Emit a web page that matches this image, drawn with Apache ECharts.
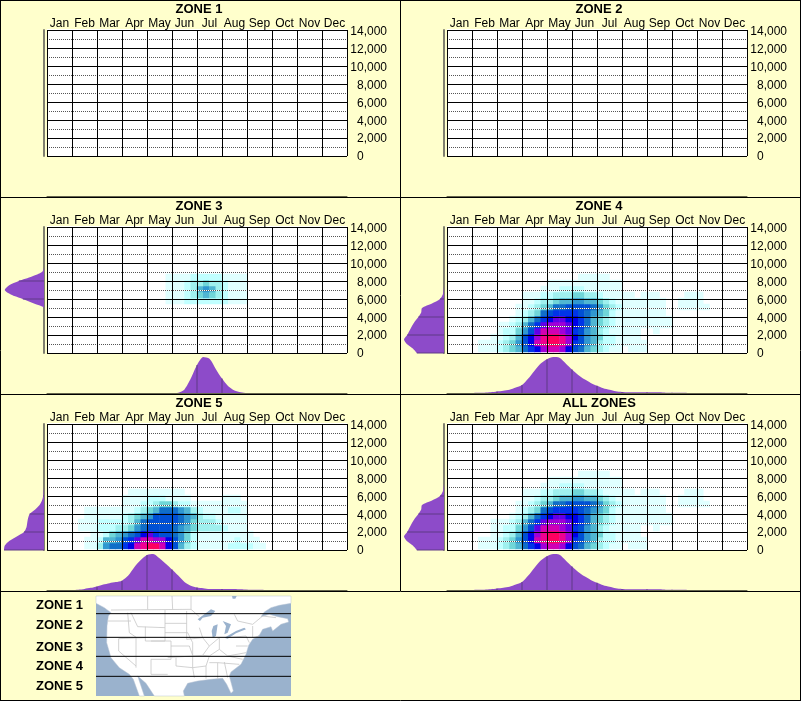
<!DOCTYPE html>
<html><head><meta charset="utf-8"><title>Zones</title>
<style>html,body{margin:0;padding:0;background:#ffffcc}#c{width:801px;height:701px}</style>
<script src="https://cdn.jsdelivr.net/npm/echarts@6/dist/echarts.min.js"></script>
</head><body><div id="c"></div>
<script>
const months = ['Jan','Feb','Mar','Apr','May','Jun','Jul','Aug','Sep','Oct','Nov','Dec'];
const binsPerMonth = 4, yBins = 21, yMax = 14000, yStep = 2000;
const zoneNames = ['ZONE 1','ZONE 2','ZONE 3','ZONE 4','ZONE 5','ALL ZONES'];
const keyLabels = ['ZONE 1','ZONE 2','ZONE 3','ZONE 4','ZONE 5'];
// colour ramp, level 1..15
const levelColors = ['#e0ffff','#c0ffff','#9ff0ee','#70d6d8','#50b6d2','#3098d0','#106ec8','#0050d4','#0034e8','#0000e8','#6000e8','#a000d8','#d000b4','#f00090','#ff0060'];
// heat cells: one row per y bin from the bottom: [first month-bin, levels (hex, '.' = empty)]
const zone1Cells = [];
const zone2Cells = [];
const zone3Cells = [null,null,null,null,null,null,null,null,
 [19,'111'+'2222222'+'111'],
 [19,'111'+'2345432'+'111'],
 [19,'111'+'2356532'+'111'],
 [19,'111'+'2334332'+'111'],
 [19,'1111'+'22222'+'1111']];
const zone4Cells = [
 [5,'111234579acddca87543211.111'],
 [5,'11123468adeffec986532211111'],
 [7,'112358aceffeca8654221111'],
 [8,'122468bdddcb98653211111..1'],
 [8,'1123579bcccba9754321'+'11111111'],
 [10,'123579abbaa9754321'+'11111111'],
 [11,'12347899998765421'+'1111111'],
 [11,'11234577888876432'+'1111111'+'..'+'11111'],
 [12,'1123345566554321'+'1111111'+'..'+'1111'],
 [12,'1112233344332111'+'11.111....111'],
 [15,'1112222111111'],
 [16,'111111111111'],
 [21,'11111']];
const zone5Cells = [
 [6,'1136779adeffda8532'+'11111'+'2222'+'11'],
 [6,'11255689bddcca8642'+'111111'+'2'+'111'],
 [7,'11245678ab9887642'+'1111111'+'11'],
 [5,'1112223346788887654'+'3333'+'2'+'111'],
 [5,'1112222235788888764'+'333'+'2'+'1111'],
 [6,'111111'+'23456'+'8888'+'765'+'322'+'11111'],
 [6,'11111111'+'2345'+'777'+'65'+'32'+'1111'+'22'+'1'],
 [12,'111'+'22'+'3443'+'22'+'111111111'],
 [12,'1111222'+'1111'+'.....'+'111'],
 [13,'111111111']];
const allCells = [
 [5,'111234579acddca87543211.111'],
 [5,'11123468adeffec986532211111'],
 [7,'112358aceffeca8654221111'],
 [7,'1122468bdddcb98653211111..1'],
 [7,'11123579bcccba9754321'+'11111111'],
 [10,'123579abbaa9754321'+'11111111'],
 [11,'12347899998765421'+'1111111'],
 [11,'11234577888876432'+'1111111'+'..'+'11111'],
 [12,'1123345566554321'+'1111111'+'..'+'1111'],
 [12,'1112233344332111'+'11.111....111'],
 [15,'1112222111111'],
 [16,'111111111111'],
 [21,'11111']];
// month marginal: relative height at each quarter-month edge (0..48)
const zone1Month = [];
const zone2Month = [];
const zone3Month = [0,0,0,0,0,0,0,0,0,0,0,0,0,0,0,0,0,0,0,0,0,0.01,0.1,0.4,0.78,1,0.95,0.67,0.4,0.19,0.07,0.02,0,0,0,0,0,0,0,0,0,0,0,0,0,0,0,0,0];
const zone4Month = [0,0,0,0,0,0.005,0.01,0.02,0.04,0.06,0.09,0.15,0.22,0.4,0.62,0.82,0.94,1,0.98,0.82,0.65,0.5,0.38,0.28,0.2,0.13,0.09,0.05,0.03,0.02,0.02,0.02,0.02,0.02,0.02,0.01,0.01,0.01,0.01,0,0,0,0,0,0,0,0,0,0];
const zone5Month = [0,0,0,0,0,0.01,0.03,0.06,0.1,0.15,0.19,0.22,0.26,0.4,0.64,0.83,0.97,1,0.88,0.73,0.57,0.4,0.22,0.12,0.07,0.05,0.03,0.03,0.03,0.03,0.03,0.02,0.01,0.01,0.005,0,0,0,0,0,0,0,0,0,0,0,0,0,0];
const allMonth = [0,0,0,0,0,0.005,0.01,0.02,0.04,0.06,0.09,0.15,0.22,0.4,0.62,0.82,0.94,1,0.98,0.82,0.65,0.5,0.38,0.28,0.2,0.13,0.09,0.05,0.03,0.02,0.02,0.02,0.02,0.02,0.02,0.01,0.01,0.01,0.01,0,0,0,0,0,0,0,0,0,0];
// elevation marginal: relative width at each 500 step from 0
const zone1Elev = [];
const zone2Elev = [];
const zone3Elev = [0,0,0,0,0,0,0,0,0,0,0,0.25,0.53,0.83,0.98,0.88,0.63,0.3,0.05,0,0,0,0,0,0,0,0,0,0];
const zone4Elev = [0.68,0.78,0.93,1,0.92,0.86,0.8,0.73,0.64,0.57,0.55,0.3,0.1,0.03,0.01,0,0,0,0,0,0,0,0,0,0,0,0,0,0];
const zone5Elev = [1,0.98,0.87,0.68,0.5,0.44,0.42,0.4,0.36,0.22,0.11,0.05,0.02,0.01,0,0,0,0,0,0,0,0,0,0,0,0,0,0,0];
const allElev = [0.68,0.78,0.93,1,0.92,0.86,0.8,0.73,0.64,0.57,0.55,0.3,0.1,0.03,0.01,0,0,0,0,0,0,0,0,0,0,0,0,0,0];

const cellSets = [zone1Cells,zone2Cells,zone3Cells,zone4Cells,zone5Cells,allCells];
const monthSets = [zone1Month,zone2Month,zone3Month,zone4Month,zone5Month,allMonth];
const elevSets = [zone1Elev,zone2Elev,zone3Elev,zone4Elev,zone5Elev,allElev];

// base map artwork, local pixels at 3x
const mapLand = [[0,0],[585,0],[585,22],[550,28],[525,35],[505,48],[495,62],[520,55],[545,62],[575,68],[578,78],[555,85],[530,105],[525,92],[500,100],[490,118],[470,130],[458,148],[450,175],[435,205],[405,228],[400,240],[412,285],[405,292],[392,265],[380,247],[345,250],[305,255],[275,262],[262,285],[265,300],[175,300],[150,262],[125,240],[145,300],[130,300],[112,250],[100,235],[70,215],[45,185],[32,140],[33,90],[37,60],[45,50],[25,35],[0,22]];
const mapLakes = [
 [[305,70],[325,55],[345,40],[358,45],[345,60],[320,65],[312,75]],
 [[352,90],[365,85],[360,120],[350,125],[347,105]],
 [[380,75],[405,85],[395,110],[385,115],[390,90]],
 [[385,125],[420,105],[445,95],[450,100],[420,112],[395,128]],
 [[408,0],[422,0],[418,8],[410,8]]];
const mapBorders = [
 [[45,42],[285,40],[310,62]],[[155,0],[155,40]],[[228,0],[230,40]],[[285,0],[285,40]],
 [[415,55],[425,75],[470,85],[500,60],[540,65]],[[35,75],[105,75]],[[95,50],[100,110],[122,125]],
 [[105,50],[125,92],[207,95]],[[207,42],[207,135]],[[207,82],[272,82]],[[272,45],[272,130]],[[207,110],[275,110],[290,140],[290,178]],
 [[148,92],[148,135],[207,135]],[[68,128],[68,165],[120,210]],[[68,128],[148,125]],[[120,125],[120,215]],
 [[165,135],[225,135],[225,190],[165,190],[165,235],[215,235]],[[225,150],[280,150],[290,178]],[[215,185],[320,178]],
 [[240,185],[240,210],[290,215],[295,245]],[[290,178],[290,215],[330,210]],[[320,178],[340,150],[320,125],[310,95]],
 [[272,130],[320,125]],[[340,150],[370,125],[370,160],[395,180],[450,170]],[[370,160],[340,180],[320,178]],
 [[330,210],[330,248]],[[340,200],[365,200],[365,248]],[[385,198],[395,245]],[[340,180],[330,210]],[[395,180],[440,190]],
 [[365,200],[430,205]],[[395,125],[450,120],[460,140]],[[420,150],[455,150]],[[470,90],[470,125]],[[490,120],[470,125]]];
const zoneCuts = [53,124,181,241];

const bg = '#ffffcc', purple = '#8d4bc9', purpleLine = '#5f3a86', baseLine = '#66664d', sideLine = '#808070';
const font = 'Liberation Sans';
const gridLeft = [47,447], rowTop = [30,227,424];
const plotW = 300, plotH = 126;

const grids=[],xAxes=[],yAxes=[],series=[],titles=[];
zoneNames.forEach((name,p)=>{
  const col=p%2,row=Math.floor(p/2),L=gridLeft[col],T=rowTop[row];
  titles.push({text:name,left:L+152,top:T-27,textAlign:'center',padding:0,
    textStyle:{fontFamily:font,fontSize:13,fontWeight:'bold',color:'#000'}});
  const bins=[...Array(months.length*binsPerMonth).keys()].map(String);
  const ybins=[...Array(yBins).keys()].map(String);
  // white plot area behind everything
  let g=grids.length;
  grids.push({left:L,top:T-1,width:plotW,height:plotH+1,show:true,backgroundColor:'#fff',borderWidth:0,outerBoundsMode:'none'});
  xAxes.push({gridIndex:g,type:'category',data:bins,show:false});
  yAxes.push({gridIndex:g,type:'category',data:[...ybins,'pad'],show:false});
  const cells=[];
  cellSets[p].forEach((r,y)=>{ if(!r) return;
    [...r[1]].forEach((c,k)=>{ if(c!=='.') cells.push([r[0]+k,y,parseInt(c,16)]); });});
  // heat cells (shifted one pixel up like the reference)
  g=grids.length;
  grids.push({left:L,top:T-1,width:plotW,height:plotH,outerBoundsMode:'none'});
  xAxes.push({gridIndex:g,type:'category',data:bins,show:false});
  yAxes.push({gridIndex:g,type:'category',data:ybins,show:false});
  series.push({type:'heatmap',xAxisIndex:xAxes.length-1,yAxisIndex:yAxes.length-1,data:cells,z:2,progressive:0,
    itemStyle:{borderWidth:0},emphasis:{disabled:true}});
  // ruled plot above the cells
  g=grids.length;
  grids.push({left:L,top:T,width:plotW,height:plotH,outerBoundsMode:'none'});
  xAxes.push({gridIndex:g,type:'category',data:months,position:'top',z:5,
    axisTick:{show:false},axisLine:{show:false},
    splitLine:{show:true,interval:0,lineStyle:{color:'#000',width:1}},
    axisLabel:{interval:0,margin:0,fontFamily:font,fontSize:12,color:'#000'}});
  yAxes.push({gridIndex:g,type:'value',min:0,max:yMax,interval:yStep,position:'right',z:5,
    axisTick:{show:false},axisLine:{show:false},axisLabel:{show:false},
    minorTick:{show:false,splitNumber:2},
    splitLine:{show:true,lineStyle:{color:'#000',width:1}},
    minorSplitLine:{show:true,lineStyle:{color:'#555',width:1,type:[1,1]}}});
  yAxes.push({gridIndex:g,type:'value',min:0,max:yMax,interval:yStep,position:'left',z:4,
    axisTick:{show:false},axisLine:{show:false},axisLabel:{show:false},splitLine:{show:false},
    minorTick:{show:false,splitNumber:2},
    minorSplitLine:{show:true,lineStyle:{color:'#fff',width:1,type:[1,1],dashOffset:1}}});
  // tick labels, offset from their rules like the reference
  g=grids.length;
  grids.push({left:L,top:T+2,width:plotW,height:plotH-1,outerBoundsMode:'none'});
  xAxes.push({gridIndex:g,type:'value',min:0,max:1,show:false});
  yAxes.push({gridIndex:g,type:'value',min:0,max:yMax,interval:yStep,position:'right',z:5,
    axisTick:{show:false},axisLine:{show:false},splitLine:{show:false},
    axisLabel:{align:'right',margin:40,fontFamily:font,fontSize:12,color:'#000',
      formatter:v=>v===0?'0       ':v.toLocaleString('en-US')}});
  // month marginal
  g=grids.length;
  grids.push({left:L,top:T+130,width:plotW,height:36,outerBoundsMode:'none'});
  const edges=[...Array(months.length*binsPerMonth+1).keys()].map(String);
  xAxes.push({gridIndex:g,type:'category',boundaryGap:false,data:edges,
    axisTick:{show:false},axisLabel:{show:false},splitLine:{show:false},
    axisLine:{show:true,lineStyle:{color:baseLine,width:1}}});
  yAxes.push({gridIndex:g,type:'value',min:0,max:1,show:false});
  const mx=xAxes.length-1,my=yAxes.length-1;
  series.push({type:'line',xAxisIndex:mx,yAxisIndex:my,data:monthSets[p],symbol:'none',smooth:0.25,z:3,
    lineStyle:{width:0},areaStyle:{color:purple,opacity:1},silent:true});
  series.push({type:'bar',xAxisIndex:mx,yAxisIndex:my,barWidth:1,z:4,silent:true,itemStyle:{color:purpleLine},
    data:monthSets[p].map((v,i)=>i%binsPerMonth===0?v:null)});
  // elevation marginal
  g=grids.length;
  grids.push({left:L-43,top:T,width:40,height:plotH,outerBoundsMode:'none'});
  const elevEdges=[...Array(29).keys()].map(String);
  xAxes.push({gridIndex:g,type:'value',min:0,max:1,inverse:true,show:false});
  yAxes.push({gridIndex:g,type:'category',boundaryGap:false,data:elevEdges,position:'right',
    axisTick:{show:false},axisLabel:{show:false},splitLine:{show:false},
    axisLine:{show:true,onZero:false,lineStyle:{color:sideLine,width:2}}});
  const ex=xAxes.length-1,ey=yAxes.length-1;
  series.push({type:'line',xAxisIndex:ex,yAxisIndex:ey,data:elevSets[p].map((v,i)=>[v,i]),symbol:'none',smooth:0.25,z:3,
    lineStyle:{width:0},areaStyle:{color:purple,opacity:1},silent:true});
  series.push({type:'bar',xAxisIndex:ex,yAxisIndex:ey,barWidth:1,z:4,silent:true,itemStyle:{color:purpleLine},
    data:elevSets[p].map((v,i)=>i%4===0?[v,i]:[null,i])});
});

const heatIdx=series.map((s,i)=>s.type==='heatmap'?i:-1).filter(i=>i>=0);
const line=(x1,y1,x2,y2)=>({type:'line',z:1,silent:true,shape:{x1,y1,x2,y2},style:{stroke:'#000',lineWidth:1}});
const graphics=[
  line(0.5,0.5,800.5,0.5),line(0,197.5,801,197.5),line(0,394.5,801,394.5),line(0,591.5,801,591.5),line(0,700.5,801,700.5),
  line(0.5,0,0.5,701),line(800.5,0,800.5,701),line(400.5,0,400.5,591),
  {type:'group',x:96,y:596,scaleX:1/3,scaleY:1/3,silent:true,z:1,children:[
    {type:'rect',shape:{x:0,y:0,width:585,height:300},style:{fill:'#9ab2cd'}},
    {type:'polygon',shape:{points:mapLand},style:{fill:'#fff',stroke:'#b8c4d4',lineWidth:1.5}},
    ...mapLakes.map(l=>({type:'polygon',shape:{points:l},style:{fill:'#9ab2cd'}})),
    ...mapBorders.map(b=>({type:'polyline',shape:{points:b},style:{stroke:'#c6c6c6',lineWidth:2.4,fill:null}})),
    ...zoneCuts.map(y=>({type:'line',shape:{x1:0,y1:y,x2:585,y2:y},style:{stroke:'#000',lineWidth:3}}))
  ]},
  ...keyLabels.map((t,i)=>({type:'text',x:36,y:[605,625,647,666,686][i],silent:true,z:2,
    style:{text:t,fontFamily:font,fontSize:13,fontWeight:'bold',fill:'#000',verticalAlign:'middle',align:'left'}}))
];

const chart=echarts.init(document.getElementById('c'),null,{renderer:'canvas',width:801,height:701});
chart.setOption({
  animation:false,backgroundColor:bg,title:titles,grid:grids,xAxis:xAxes,yAxis:yAxes,series,graphic:graphics,
  visualMap:{show:false,type:'continuous',seriesIndex:heatIdx,dimension:2,min:1,max:15,calculable:false,inRange:{color:levelColors}}
});
</script></body></html>
